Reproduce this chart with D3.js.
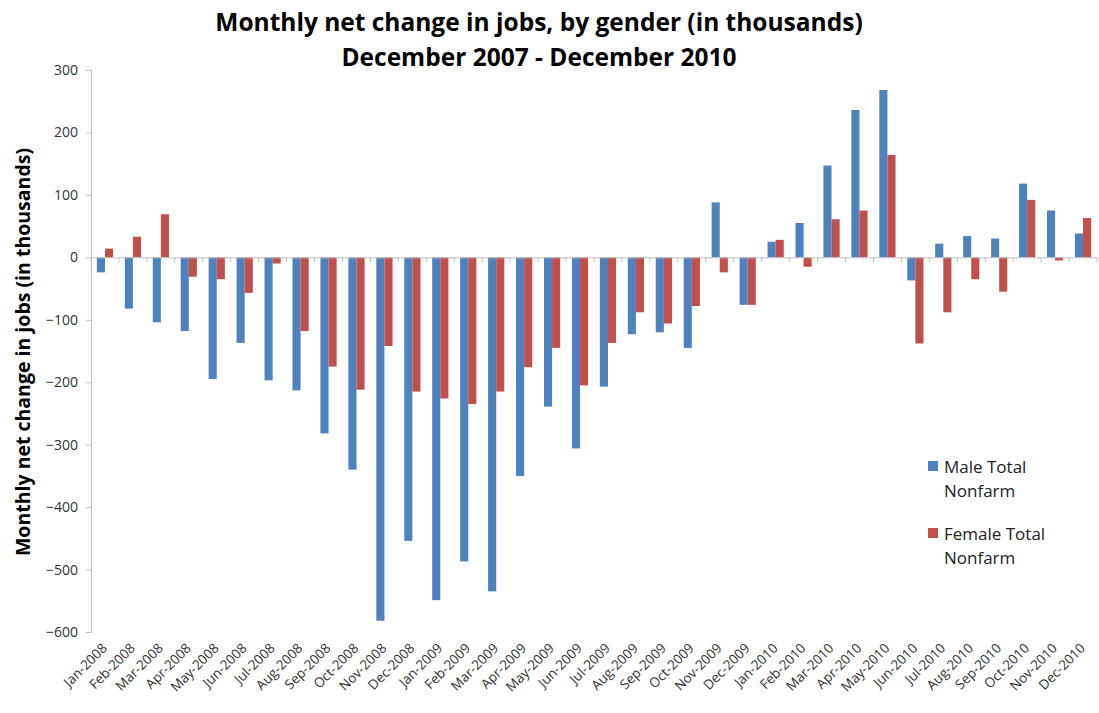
<!DOCTYPE html>
<html>
<head>
<meta charset="utf-8">
<script src="https://cdn.jsdelivr.net/npm/d3@7"></script>
<style>
  body { margin: 0; background: #fff; }
  text { font-family: "Open Sans", "Noto Sans", sans-serif; }
</style>
</head>
<body>
<div id="chart"></div>
<script>
const months = [
  "Jan-2008","Feb-2008","Mar-2008","Apr-2008","May-2008","Jun-2008","Jul-2008","Aug-2008","Sep-2008","Oct-2008","Nov-2008","Dec-2008",
  "Jan-2009","Feb-2009","Mar-2009","Apr-2009","May-2009","Jun-2009","Jul-2009","Aug-2009","Sep-2009","Oct-2009","Nov-2009","Dec-2009",
  "Jan-2010","Feb-2010","Mar-2010","Apr-2010","May-2010","Jun-2010","Jul-2010","Aug-2010","Sep-2010","Oct-2010","Nov-2010","Dec-2010"
];
const male = [
  -24, -82, -104, -118, -195, -137, -197, -213, -282, -340, -582, -454,
  -549, -487, -535, -350, -239, -306, -207, -123, -120, -145, 88, -76,
  25, 55, 147, 236, 268, -37, 22, 34, 30, 118, 75, 38
];
const female = [
  14, 33, 69, -31, -35, -57, -10, -118, -175, -212, -142, -215,
  -226, -235, -215, -176, -145, -205, -137, -88, -106, -78, -24, -76,
  28, -15, 61, 75, 164, -138, -88, -35, -55, 92, -5, 63
];
const seriesNames = ["Male Total\nNonfarm", "Female Total\nNonfarm"];
const colors = ["#4F81BD", "#C0504D"];
const yTicks = [300, 200, 100, 0, -100, -200, -300, -400, -500, -600];

const W = 1099, H = 713;
const MARGIN = { TOP: 70, LEFT: 91, RIGHT: 2, BOTTOM: 81 };
const innerW = W - MARGIN.LEFT - MARGIN.RIGHT;
const innerH = H - MARGIN.TOP - MARGIN.BOTTOM;

const svg = d3.select("#chart").append("svg")
  .attr("width", W).attr("height", H);

// titles
svg.append("text")
  .attr("x", 539).attr("y", 31)
  .attr("text-anchor", "middle")
  .attr("font-size", 24.5).attr("font-weight", "bold")
  .text("Monthly net change in jobs, by gender (in thousands)");
svg.append("text")
  .attr("x", 539).attr("y", 66)
  .attr("text-anchor", "middle")
  .attr("font-size", 24.5).attr("font-weight", "bold")
  .text("December 2007 - December 2010");

const g = svg.append("g")
  .attr("transform", `translate(${MARGIN.LEFT},${MARGIN.TOP})`);

const x = d3.scaleBand().domain(months).range([0, innerW]);
const y = d3.scaleLinear().domain([-600, 300]).range([innerH, 0]);
const barW = x.bandwidth() * 0.29;

// y axis
const yAxis = g.append("g")
  .call(d3.axisLeft(y).tickValues(yTicks).tickSize(5).tickPadding(8));
yAxis.select(".domain").attr("stroke", "#BFBFBF");
yAxis.selectAll(".tick line").attr("stroke", "#BFBFBF");
yAxis.selectAll(".tick text")
  .attr("font-size", 14).attr("fill", "#333")
  .attr("font-family", "'Open Sans', sans-serif");

// bars
const series = [male, female];
series.forEach((vals, s) => {
  g.selectAll(".bar" + s)
    .data(vals)
    .enter().append("rect")
    .attr("x", (d, i) => x(months[i]) + x.bandwidth() / 2 - barW + s * barW)
    .attr("y", d => y(Math.max(0, d)))
    .attr("width", barW)
    .attr("height", d => Math.abs(y(d) - y(0)))
    .attr("fill", colors[s]);
});

// x axis at zero
const xAxis = g.append("g")
  .attr("transform", `translate(0,${y(0)})`)
  .call(d3.axisBottom(x).tickSize(0).tickFormat(""));
xAxis.select(".domain").attr("stroke", "#BFBFBF");
g.append("g").selectAll("line")
  .data(months.concat(["end"]))
  .enter().append("line")
  .attr("x1", (d, i) => i * x.step())
  .attr("x2", (d, i) => i * x.step())
  .attr("y1", y(0)).attr("y2", y(0) + 5)
  .attr("stroke", "#BFBFBF");

// x labels, rotated
g.append("g").selectAll("text")
  .data(months)
  .enter().append("text")
  .attr("transform", d => `translate(${x(d) + x.bandwidth() / 2 + 3},${innerH + 17}) rotate(-45)`)
  .attr("text-anchor", "end")
  .attr("font-size", 13.5).attr("fill", "#333")
  .text(d => d);

// y axis title
svg.append("text")
  .attr("transform", "translate(30,352) rotate(-90)")
  .attr("text-anchor", "middle")
  .attr("font-size", 19.5).attr("font-weight", "bold")
  .text("Monthly net change in jobs (in thousands)");

// legend
const legend = svg.append("g").attr("transform", "translate(928,461)");
seriesNames.forEach((name, i) => {
  const lg = legend.append("g").attr("transform", `translate(0,${i * 67})`);
  lg.append("rect").attr("width", 10).attr("height", 10).attr("fill", colors[i]);
  name.split("\n").forEach((line, j) => {
    lg.append("text")
      .attr("x", 16).attr("y", 12 + j * 24)
      .attr("font-size", 17).attr("fill", "#222")
      .text(line);
  });
});
</script>
</body>
</html>
